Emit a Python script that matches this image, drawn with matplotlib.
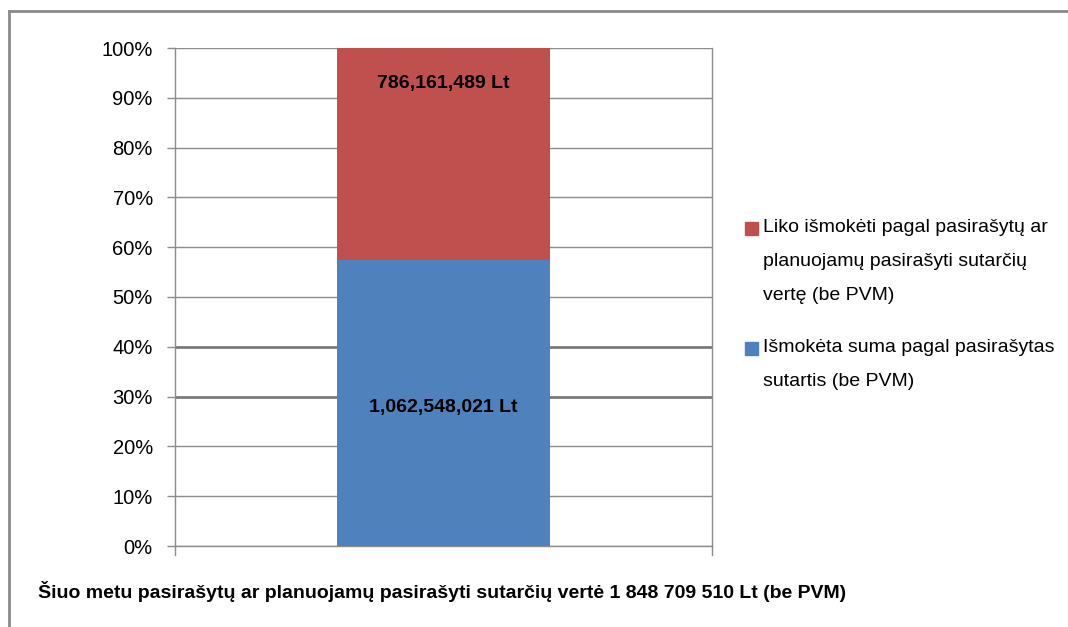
import matplotlib
matplotlib.use("Agg")
import matplotlib.pyplot as plt
from matplotlib.lines import Line2D
from matplotlib.patches import Rectangle

categories = [""]
paid = [1062548021]
remaining = [786161489]
series_names = ["Išmokėta suma pagal pasirašytas\nsutartis (be PVM)",
                "Liko išmokėti pagal pasirašytų ar\nplanuojamų pasirašyti sutarčių\nvertę (be PVM)"]
paid_label = "1,062,548,021 Lt"
remaining_label = "786,161,489 Lt"
footer = "Šiuo metu pasirašytų ar planuojamų pasirašyti sutarčių vertė 1 848 709 510 Lt (be PVM)"
yticks = [0, 10, 20, 30, 40, 50, 60, 70, 80, 90, 100]

plt.rcParams['font.family'] = ['Liberation Sans', 'DejaVu Sans']

BLUE = "#4F81BD"
RED = "#C0504D"
GRID = "#8C8C8C"

W, H = 1068, 627
fig = plt.figure(figsize=(W/100, H/100), dpi=100)
ax = fig.add_axes([175/W, 1-546/H, (712-175)/W, (546-48)/H])

total = [p + r for p, r in zip(paid, remaining)]
paid_pct = [100*p/t for p, t in zip(paid, total)]
rem_pct = [100*r/t for r, t in zip(remaining, total)]
x = list(range(len(categories)))
ax.bar(x, paid_pct, width=0.395, color=BLUE, zorder=3)
ax.bar(x, rem_pct, bottom=paid_pct, width=0.395, color=RED, zorder=3)

ax.set_xlim(-0.5, 0.5)
ax.set_ylim(0, 100)
ax.set_yticks(yticks)
ax.set_yticklabels([f"{v}%" for v in yticks])
ax.set_xticks([])
for v in yticks:
    if v in (30, 40):
        ax.axhline(v, color="#7A7A7A", lw=2.0, zorder=1)
    else:
        ax.axhline(v, color=GRID, lw=1.0, zorder=1)
ax.spines["top"].set_visible(False)
for s in ["left", "right", "bottom"]:
    ax.spines[s].set_color(GRID)
    ax.spines[s].set_linewidth(1.0)
ax.tick_params(axis='y', length=6, color=GRID, labelsize=14.5, pad=10, width=1)
for xb in (-0.5, 0.5):
    ax.add_line(Line2D([xb, xb], [0, -1.8], color=GRID, lw=1.0, clip_on=False))

ax.text(x[0], 92.9, remaining_label, ha='center', va='center', fontsize=14, fontweight='bold', zorder=4)
ax.text(x[0], 27.8, paid_label, ha='center', va='center', fontsize=14, fontweight='bold', zorder=4)

# legend (drawn manually: marker aligned with first line of each entry)
entries = [(RED, series_names[1], 228), (BLUE, series_names[0], 348)]
line_step = 34
for color, label, y0 in entries:
    fig.add_artist(Rectangle((745/W, 1-(y0+7)/H), 13/W, 13/H, color=color,
                             transform=fig.transFigure))
    for i, line in enumerate(label.split("\n")):
        fig.text(763/W, 1-(y0+i*line_step)/H, line, ha='left', va='center', fontsize=14)

fig.text(38/W, 1-592/H, footer, ha='left', va='center', fontsize=14, fontweight='bold')

fig.add_artist(Line2D([9/W, 1], [1-11/H, 1-11/H], color="#8A8A8A", lw=2, transform=fig.transFigure))
fig.add_artist(Line2D([9/W, 9/W], [0, 1-11/H], color="#8A8A8A", lw=2, transform=fig.transFigure))

fig.savefig("out.png", dpi=100)
